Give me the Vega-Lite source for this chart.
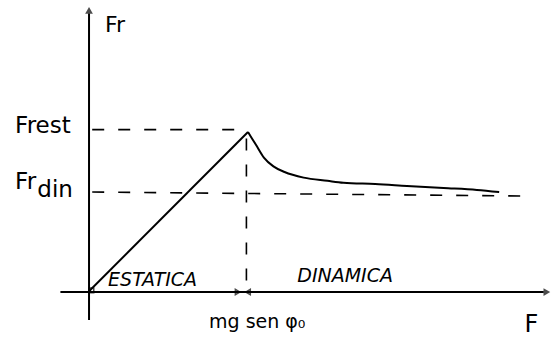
{
  "$schema": "https://vega.github.io/schema/vega-lite/v6.json",
  "width": 551,
  "height": 345,
  "padding": 0,
  "autosize": {"type": "fit", "contains": "padding"},
  "background": "white",
  "config": {"view": {"stroke": null}},
  "datasets": {
    "axes": [
      {"seg": "Fr", "F": 0, "Fr": -1.75, "ord": 0},
      {"seg": "Fr", "F": 0, "Fr": 17.4, "ord": 1},
      {"seg": "F", "F": -1.8, "Fr": 0, "ord": 0},
      {"seg": "F", "F": 28.6, "Fr": 0, "ord": 1}
    ],
    "ramp": [
      {"F": 0, "Fr": 0.05},
      {"F": 10, "Fr": 10}
    ],
    "curve": [
      {"F": 10, "Fr": 10},
      {"F": 10.5, "Fr": 9.2},
      {"F": 11.0, "Fr": 8.4},
      {"F": 11.6, "Fr": 7.85},
      {"F": 12.3, "Fr": 7.5},
      {"F": 13.5, "Fr": 7.15},
      {"F": 15.0, "Fr": 6.95},
      {"F": 16.0, "Fr": 6.83},
      {"F": 18.0, "Fr": 6.75},
      {"F": 20.0, "Fr": 6.63},
      {"F": 22.3, "Fr": 6.5},
      {"F": 24.4, "Fr": 6.38},
      {"F": 25.8, "Fr": 6.25}
    ],
    "guides": [
      {"seg": "est", "F": 0.2, "Fr": 10.15, "ord": 0},
      {"seg": "est", "F": 10, "Fr": 10.15, "ord": 1},
      {"seg": "din", "F": 0.2, "Fr": 6.25, "ord": 0},
      {"seg": "din", "F": 27.4, "Fr": 6.0, "ord": 1},
      {"seg": "crit", "F": 9.9, "Fr": 9.6, "ord": 0},
      {"seg": "crit", "F": 9.9, "Fr": 0.1, "ord": 1}
    ],
    "labels": [
      {"id": "yname", "F": 1.0, "Fr": 16.7, "text": "Fr", "size": 22},
      {"id": "frest", "F": -4.65, "Fr": 10.4, "text": "Frest", "size": 23},
      {"id": "frdin", "F": -4.65, "Fr": 6.85, "text": "Fr", "size": 23},
      {"id": "din", "F": -3.25, "Fr": 6.4, "text": "din", "size": 23},
      {"id": "xname", "F": 27.4, "Fr": -2.06, "text": "F", "size": 24},
      {"id": "crit", "F": 7.55, "Fr": -1.9, "text": "mg sen φ₀", "size": 19}
    ],
    "zones": [
      {"F": 1.2, "Fr": 0.75, "text": "ESTATICA"},
      {"F": 13.1, "Fr": 1.0, "text": "DINAMICA"}
    ]
  },
  "encoding": {
    "x": {"field": "F", "type": "quantitative", "scale": {"domain": [-5.6, 29.06], "nice": false, "zero": false}, "axis": null},
    "y": {"field": "Fr", "type": "quantitative", "scale": {"domain": [-3.31, 18.25], "nice": false, "zero": false}, "axis": null}
  },
  "layer": [
    {
      "data": {"name": "guides"},
      "mark": {"type": "line", "color": "black", "strokeWidth": 1.6, "strokeDash": [12, 14]},
      "encoding": {"detail": {"field": "seg"}, "order": {"field": "ord"}}
    },
    {
      "data": {"name": "axes"},
      "mark": {"type": "line", "color": "black", "strokeWidth": 2},
      "encoding": {"detail": {"field": "seg"}, "order": {"field": "ord"}}
    },
    {
      "data": {"name": "ramp"},
      "mark": {"type": "line", "color": "black", "strokeWidth": 2},
      "encoding": {}
    },
    {
      "data": {"name": "curve"},
      "mark": {"type": "line", "color": "black", "strokeWidth": 2, "interpolate": "monotone"},
      "encoding": {}
    },
    {
      "data": {"values": [{"F": 0, "Fr": 17.6}]},
      "mark": {"type": "point", "shape": "triangle-up", "filled": true, "color": "black", "size": 60}
    },
    {
      "data": {"values": [{"F": 28.8, "Fr": 0}]},
      "mark": {"type": "point", "shape": "triangle-right", "filled": true, "color": "black", "size": 60}
    },
    {
      "data": {"values": [{"F": 9.35, "Fr": 0}]},
      "mark": {"type": "point", "shape": "triangle-right", "filled": false, "color": "black", "strokeWidth": 1.5, "size": 28}
    },
    {
      "data": {"values": [{"F": 10.0, "Fr": 0}]},
      "mark": {"type": "point", "shape": "triangle-left", "filled": false, "color": "black", "strokeWidth": 1.5, "size": 28}
    },
    {
      "data": {"values": [{"F": 0.15, "Fr": 0.1}]},
      "mark": {"type": "point", "shape": "square", "filled": false, "color": "black", "strokeWidth": 1.5, "size": 22}
    },
    {
      "data": {"name": "labels"},
      "mark": {"type": "text", "align": "left", "baseline": "middle", "font": "DejaVu Sans", "color": "black"},
      "encoding": {"text": {"field": "text"}, "size": {"field": "size", "type": "quantitative", "scale": null}}
    },
    {
      "data": {"name": "zones"},
      "mark": {"type": "text", "align": "left", "baseline": "middle", "font": "DejaVu Sans", "fontStyle": "italic", "fontSize": 19, "color": "black"},
      "encoding": {"text": {"field": "text"}}
    }
  ]
}
